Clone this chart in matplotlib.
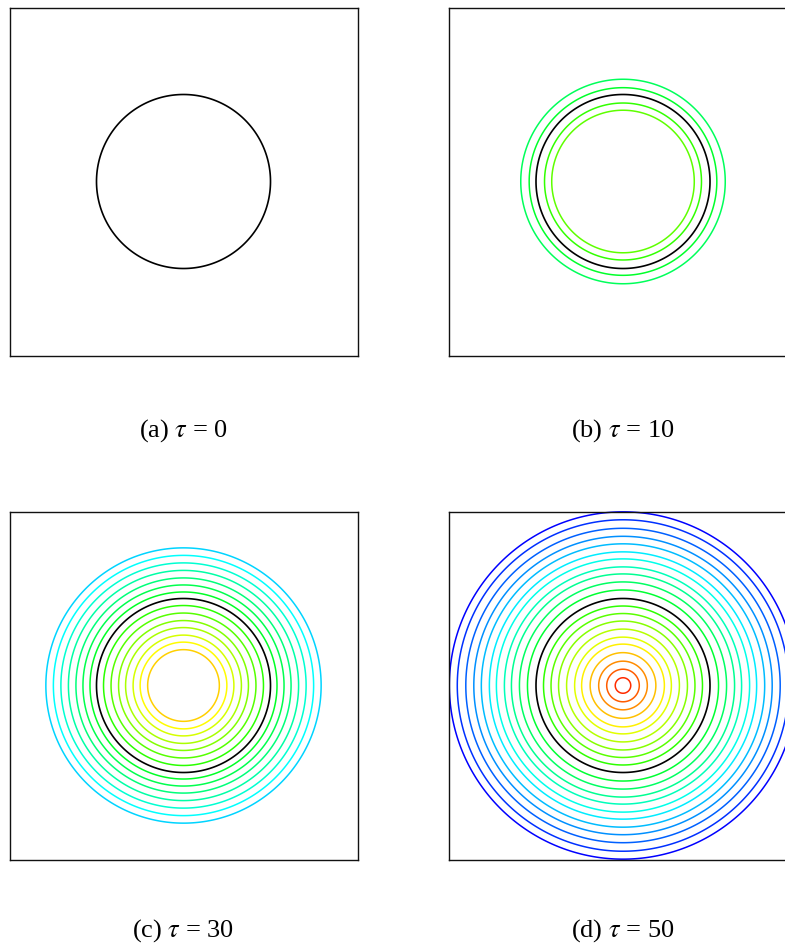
import numpy as np
import matplotlib
matplotlib.use("Agg")
import matplotlib.pyplot as plt
import matplotlib.colors as mcolors

plt.rcParams["font.family"] = ["Liberation Serif", "DejaVu Serif"]
plt.rcParams["mathtext.fontset"] = "stix"

# ---- data -------------------------------------------------------------
radius = 0.25                     # interface radius (domain is the unit square)
captions = [r"(a) $\tau$ = 0", r"(b) $\tau$ = 10", r"(c) $\tau$ = 30", r"(d) $\tau$ = 50"]
# level-set values of the contour lines shown in each panel (0 = interface, drawn black)
levels_a = []
levels_b = [-0.0438, -0.0196, 0.0245, 0.0452]
levels_c = [-0.1455, -0.1239, -0.1023, -0.0807, -0.0591, -0.0389, -0.0187,
            0.0202, 0.0418, 0.0634, 0.0836, 0.1052, 0.1254, 0.1470]
levels_d = [-0.2490, -0.2262, -0.2017, -0.1787, -0.1571, -0.1340, -0.1138, -0.0908,
            -0.0706, -0.0476, -0.0245,
            0.0216, 0.0432, 0.0648, 0.0879, 0.1110, 0.1311, 0.1556, 0.1801, 0.2032, 0.2277]
panel_levels = [levels_a, levels_b, levels_c, levels_d]
level_range = (-0.25, 0.25)

# ---- field ------------------------------------------------------------
n = 401
x = np.linspace(0.0, 1.0, n)
X, Y = np.meshgrid(x, x)
phi = radius - np.sqrt((X - 0.5) ** 2 + (Y - 0.5) ** 2)

hues = np.linspace(2.0 / 3.0, 0.0, 256)
cmap = mcolors.ListedColormap(mcolors.hsv_to_rgb(np.stack([hues, np.ones(256), np.ones(256)], axis=1)))
norm = mcolors.Normalize(vmin=level_range[0], vmax=level_range[1])

W, H = 785, 948
fig = plt.figure(figsize=(W / 100, H / 100), dpi=100)

box = 348.0
lefts = [9.5, 449.0, 9.5, 449.0]
tops = [7.5, 7.5, 511.5, 511.5]
cap_base = [437.0, 437.0, 937.0, 937.0]

for i in range(4):
    ax = fig.add_axes([lefts[i] / W, 1 - (tops[i] + box) / H, box / W, box / H])
    lv = panel_levels[i]
    if lv:
        ax.contour(X, Y, phi, levels=sorted(lv), cmap=cmap, norm=norm, linewidths=1.1)
    ax.contour(X, Y, phi, levels=[0.0], colors="k", linewidths=1.2)
    ax.set_xlim(0, 1)
    ax.set_ylim(0, 1)
    ax.set_xticks([])
    ax.set_yticks([])
    for s in ax.spines.values():
        s.set_linewidth(1.0)
        s.set_color("#111111")
    cx = (lefts[i] + box / 2) / W
    fig.text(cx, 1 - cap_base[i] / H, captions[i], ha="center", va="baseline", fontsize=19)

fig.savefig("out.png", dpi=100)
